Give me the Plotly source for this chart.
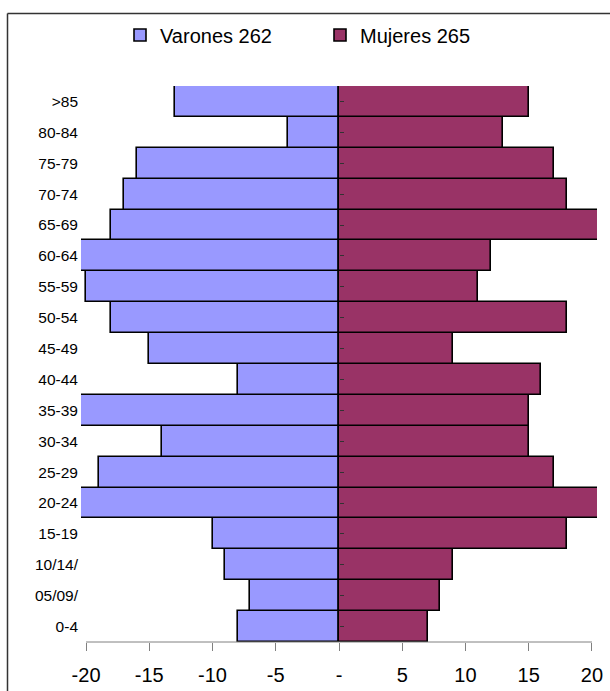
import plotly.graph_objects as go

# Age groups, bottom to top
grupos = ["0-4", "05/09/", "10/14/", "15-19", "20-24", "25-29", "30-34", "35-39",
          "40-44", "45-49", "50-54", "55-59", "60-64", "65-69", "70-74", "75-79",
          "80-84", ">85"]
varones = [8, 7, 9, 10, 23, 19, 14, 21, 8, 15, 18, 20, 22, 18, 17, 16, 4, 13]
mujeres = [7, 8, 9, 18, 24, 17, 15, 15, 16, 9, 18, 11, 12, 23, 18, 17, 13, 15]

x_ticks = [-20, -15, -10, -5, 0, 5, 10, 15, 20]
x_ticktext = ["-20", "-15", "-10", "-5", "-", "5", "10", "15", "20"]

FONT = "Liberation Sans, Arial, sans-serif"
W, H = 610, 691
ML, MR, MT, MB = 81, 13, 86, 49
PW, PH = W - ML - MR, H - MT - MB


def px_x(p):
    return (p - ML) / PW


def px_y(p):
    return (H - MB - p) / PH


fig = go.Figure()
fig.add_trace(go.Bar(
    y=grupos, x=[-v for v in varones], orientation="h",
    name=f"Varones {sum(varones)}",
    marker=dict(color="#9999FF", line=dict(color="black", width=1.6)),
))
fig.add_trace(go.Bar(
    y=grupos, x=mujeres, orientation="h", yaxis="y2",
    name=f"Mujeres {sum(mujeres)}",
    marker=dict(color="#993366", line=dict(color="black", width=1.6)),
))

xr = [-20.4, 20.4]
fig.update_layout(
    width=W, height=H,
    margin=dict(l=ML, r=MR, t=MT, b=MB, autoexpand=False),
    paper_bgcolor="white", plot_bgcolor="white",
    barmode="overlay", bargap=0,
    font=dict(family=FONT, color="black"),
    xaxis=dict(
        range=xr, tickvals=x_ticks, ticktext=x_ticktext,
        showgrid=False, zeroline=False, showline=False,
        ticks="outside", ticklen=8, tickcolor="#808080", tickwidth=1,
        tickfont=dict(size=20), ticklabelstandoff=7, automargin=False,
    ),
    yaxis=dict(
        type="category", categoryorder="array", categoryarray=grupos,
        range=[-0.5, len(grupos) - 0.5],
        showgrid=False, zeroline=False, showline=False, ticks="",
        tickfont=dict(size=15.5), ticklabelstandoff=2, automargin=False,
    ),
    yaxis2=dict(
        type="category", categoryorder="array", categoryarray=grupos,
        range=[-0.5, len(grupos) - 0.5],
        overlaying="y", anchor="free", side="right",
        position=(0 - xr[0]) / (xr[1] - xr[0]),
        showgrid=False, zeroline=False, showline=False,
        ticks="outside", ticklen=4, tickcolor="#333333", tickwidth=1,
        showticklabels=False, automargin=False,
    ),
    legend=dict(
        orientation="h", x=px_x(120), xanchor="left",
        y=px_y(35), yanchor="middle",
        font=dict(size=20), entrywidth=155, traceorder="normal",
        bgcolor="rgba(0,0,0,0)",
    ),
    showlegend=True,
)

# x-axis baseline spanning the labelled ticks
fig.add_shape(type="line", xref="x", yref="paper",
              x0=x_ticks[0], x1=x_ticks[-1], y0=0, y1=0,
              line=dict(color="#808080", width=1))

# chart frame: top and left edges
fig.add_shape(type="line", xref="paper", yref="paper",
              x0=px_x(7.5), x1=px_x(W + 5), y0=px_y(13.5), y1=px_y(13.5),
              line=dict(color="#333333", width=1.5))
fig.add_shape(type="line", xref="paper", yref="paper",
              x0=px_x(7.5), x1=px_x(7.5), y0=px_y(13.5), y1=px_y(H + 5),
              line=dict(color="#333333", width=1.5))

fig.write_html("out.html")
